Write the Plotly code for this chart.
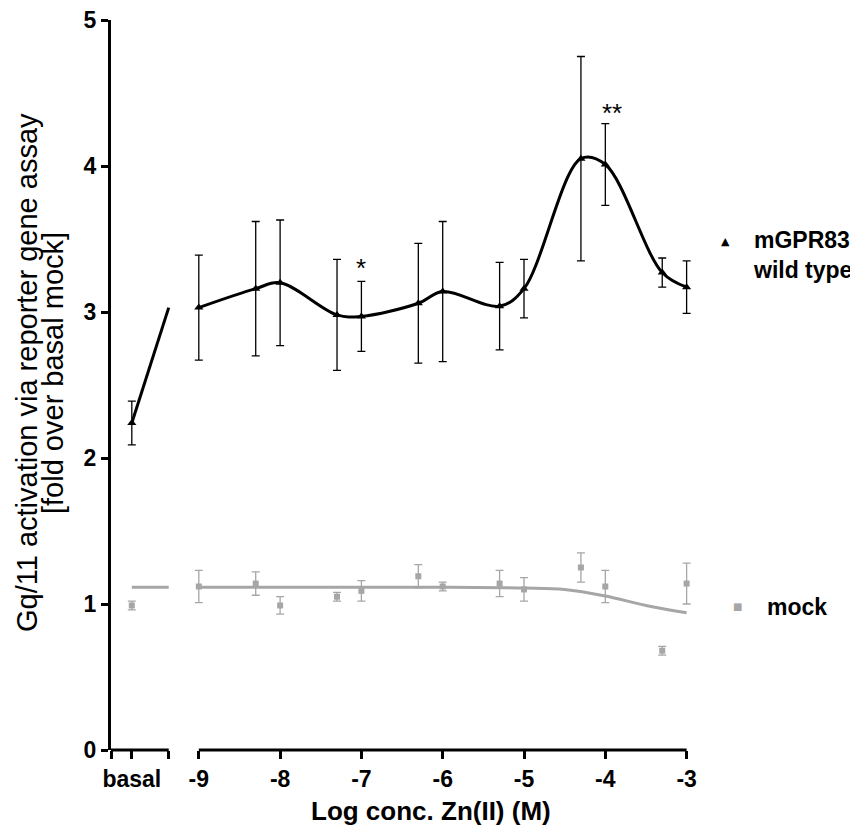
import plotly.graph_objects as go

# ---------------- data ----------------
x_labels = ["basal", "-9", "-8", "-7", "-6", "-5", "-4", "-3"]
conc = [-9.0, -8.3, -8.0, -7.3, -7.0, -6.3, -6.0, -5.3, -5.0, -4.3, -4.0, -3.3, -3.0]

wt_basal, wt_basal_err = 2.24, 0.15
wt_y = [3.03, 3.16, 3.20, 2.98, 2.97, 3.06, 3.14, 3.04, 3.16, 4.05, 4.01, 3.27, 3.17]
wt_err = [0.36, 0.46, 0.43, 0.38, 0.24, 0.41, 0.48, 0.30, 0.20, 0.70, 0.28, 0.10, 0.18]

mock_basal, mock_basal_err = 0.99, 0.03
mock_y = [1.12, 1.14, 0.99, 1.05, 1.09, 1.19, 1.12, 1.14, 1.10, 1.25, 1.12, 0.68, 1.14]
mock_err = [0.11, 0.08, 0.06, 0.03, 0.07, 0.08, 0.03, 0.09, 0.08, 0.10, 0.11, 0.03, 0.14]

mock_fit_x = [-9.0, -8.0, -7.0, -6.0, -5.0, -4.5, -4.0, -3.5, -3.0]
mock_fit_y = [1.115, 1.115, 1.115, 1.115, 1.11, 1.10, 1.055, 0.99, 0.94]

sig_single_idx = 4   # -7  -> "*"
sig_double_idx = 10  # -4  -> "**"

# ---------------- layout constants ----------------
X0, X1 = -10.08, -2.737      # axis range
BASAL_X = -9.824             # position of the "basal" point
SEG_END = -9.37              # end of the basal axis segment
BLACK = "#000000"
GREY = "#a6a6a6"
FONT = "Liberation Sans, Arial, sans-serif"

def px(x):
    return (x - X0) / (X1 - X0)

fig = go.Figure()

# mock fit curve
fig.add_trace(go.Scatter(x=mock_fit_x, y=mock_fit_y, mode="lines",
                         line=dict(color=GREY, width=3, shape="spline"),
                         hoverinfo="skip", showlegend=False))
fig.add_trace(go.Scatter(x=[BASAL_X, SEG_END], y=[mock_fit_y[0], mock_fit_y[0]], mode="lines",
                         line=dict(color=GREY, width=3), hoverinfo="skip", showlegend=False))
# mock points
fig.add_trace(go.Scatter(x=[BASAL_X] + conc, y=[mock_basal] + mock_y, mode="markers",
                         marker=dict(symbol="square", size=6, color=GREY),
                         error_y=dict(type="data", array=[mock_basal_err] + mock_err,
                                      color=GREY, thickness=1.3, width=4),
                         name="mock", showlegend=False))

# wild type curve
fig.add_trace(go.Scatter(x=conc, y=wt_y, mode="lines",
                         line=dict(color=BLACK, width=3, shape="spline", smoothing=1.0),
                         hoverinfo="skip", showlegend=False))
fig.add_trace(go.Scatter(x=[BASAL_X, SEG_END], y=[wt_basal, wt_y[0]], mode="lines",
                         line=dict(color=BLACK, width=3), hoverinfo="skip", showlegend=False))
# wild type points
fig.add_trace(go.Scatter(x=[BASAL_X] + conc, y=[wt_basal] + wt_y, mode="markers",
                         marker=dict(symbol="triangle-up", size=8, color=BLACK),
                         error_y=dict(type="data", array=[wt_basal_err] + wt_err,
                                      color=BLACK, thickness=1.3, width=4),
                         name="mGPR83 wild type", showlegend=False))

tickvals = [X0, BASAL_X, SEG_END, -9, -8, -7, -6, -5, -4, -3]
ticktext = ["", x_labels[0], ""] + x_labels[1:]

shapes = [
    dict(type="line", xref="paper", yref="paper", x0=0, x1=px(SEG_END), y0=0, y1=0,
         line=dict(color=BLACK, width=3)),
    dict(type="line", xref="paper", yref="paper", x0=px(-9), x1=px(-3), y0=0, y1=0,
         line=dict(color=BLACK, width=3)),
]

annotations = [
    dict(text="*", x=conc[sig_single_idx], y=wt_y[sig_single_idx] + wt_err[sig_single_idx],
         xref="x", yref="y", showarrow=False, yanchor="bottom", yshift=-4,
         font=dict(family=FONT, size=26, color=BLACK)),
    dict(text="**", x=conc[sig_double_idx], y=wt_y[sig_double_idx] + wt_err[sig_double_idx],
         xref="x", yref="y", showarrow=False, yanchor="bottom", yshift=-6, xshift=7,
         font=dict(family=FONT, size=26, color=BLACK)),
    # axis titles
    dict(text="Gq/11 activation via reporter gene assay", textangle=-90,
         x=(27 - 111) / 597, y=(750 - 373) / 730, xref="paper", yref="paper",
         showarrow=False, xanchor="center", yanchor="middle",
         font=dict(family=FONT, size=29, color=BLACK)),
    dict(text="[fold over basal mock]", textangle=-90,
         x=(53 - 111) / 597, y=(750 - 373) / 730, xref="paper", yref="paper",
         showarrow=False, xanchor="center", yanchor="middle",
         font=dict(family=FONT, size=29, color=BLACK)),
    dict(text="<b>Log conc. Zn(II) (M)</b>", x=(431 - 111) / 597, y=-(811 - 750) / 730,
         xref="paper", yref="paper", showarrow=False, xanchor="center", yanchor="middle",
         font=dict(family=FONT, size=26, color=BLACK)),
    # legend
    dict(text="▲", x=(725 - 111) / 597, y=(750 - 242) / 730, xref="paper", yref="paper",
         showarrow=False, xanchor="center", yanchor="middle",
         font=dict(family="DejaVu Sans", size=11, color=BLACK)),
    dict(text="<b>mGPR83<br>wild type</b>", x=(751 - 111) / 597, y=(750 - 255) / 730,
         xref="paper", yref="paper", showarrow=False, xanchor="left", yanchor="middle",
         align="left", font=dict(family=FONT, size=23, color=BLACK)),
    dict(text="■", x=(737 - 111) / 597, y=(750 - 606) / 730, xref="paper", yref="paper",
         showarrow=False, xanchor="center", yanchor="middle",
         font=dict(family="DejaVu Sans", size=10, color=GREY)),
    dict(text="<b>mock</b>", x=(765 - 111) / 597, y=(750 - 607) / 730,
         xref="paper", yref="paper", showarrow=False, xanchor="left", yanchor="middle",
         font=dict(family=FONT, size=23, color=BLACK)),
]

fig.update_layout(
    width=850, height=820,
    margin=dict(l=103, r=150, t=12, b=78, autoexpand=False),
    paper_bgcolor="white", plot_bgcolor="white",
    shapes=shapes, annotations=annotations,
    font=dict(family=FONT, color=BLACK),
    xaxis=dict(range=[X0, X1], showgrid=False, zeroline=False, showline=False,
               automargin=False,
               ticks="outside", ticklen=8, tickwidth=3, tickcolor=BLACK,
               tickmode="array", tickvals=tickvals, ticktext=ticktext,
               ticklabeloverflow="allow",
               tickfont=dict(family=FONT, size=23, color=BLACK, weight="bold")),
    yaxis=dict(range=[0, 5], showgrid=False, zeroline=False, showline=True,
               automargin=False,
               linecolor=BLACK, linewidth=3, ticks="outside", ticklen=7, tickwidth=3,
               tickcolor=BLACK, tickvals=[0, 1, 2, 3, 4, 5],
               ticklabeloverflow="allow",
               tickfont=dict(family=FONT, size=23, color=BLACK, weight="bold")),
)

fig.write_html("out.html")
